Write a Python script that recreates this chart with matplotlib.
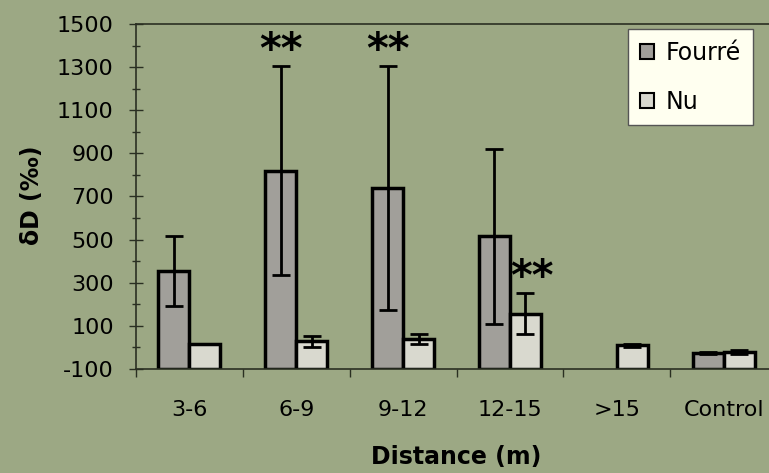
import matplotlib
matplotlib.use("Agg")
import matplotlib.pyplot as plt
import numpy as np
from matplotlib.ticker import MultipleLocator

categories = ["3-6", "6-9", "9-12", "12-15", ">15", "Control"]
fourre = [355, 820, 740, 515, np.nan, -25]
fourre_err = [163, 485, 565, 405, np.nan, 5]
nu = [15, 28, 40, 156, 10, -22]
nu_err = [0, 25, 24, 95, 8, 10]
stars = [(1, "fourre"), (2, "fourre"), (3, "nu")]
yticks = list(range(-100, 1501, 200))

bg = "#9ca884"
c_fourre = "#a19f9a"
c_nu = "#d9d9cf"
axis_c = "#2a2f22"

plt.rcParams['font.family'] = ['DejaVu Sans']
plt.rcParams['axes.unicode_minus'] = False

fig = plt.figure(figsize=(7.69, 4.73), dpi=100)
fig.patch.set_facecolor(bg)
ax = fig.add_axes([136/769, 1-369/473, (777-136)/769, (369-24)/473])
ax.set_facecolor(bg)

x = np.arange(len(categories))
w = 0.29
base = -100
f_vals = np.array(fourre, dtype=float)
n_vals = np.array(nu, dtype=float)
ax.bar(x - w/2, f_vals - base, w, bottom=base, color=c_fourre, edgecolor="black",
       linewidth=2.5, label="Fourré", zorder=2)
ax.bar(x + w/2, n_vals - base, w, bottom=base, color=c_nu, edgecolor="black",
       linewidth=2.5, label="Nu", zorder=2)
ax.errorbar(x - w/2, f_vals, yerr=fourre_err, fmt="none", ecolor="black",
            elinewidth=2, capsize=6.5, capthick=2, zorder=3)
ax.errorbar(x + w/2, n_vals, yerr=nu_err, fmt="none", ecolor="black",
            elinewidth=2, capsize=6.5, capthick=2, zorder=3)

for i, s in stars:
    if s == "fourre":
        xp = x[i] - w/2
        yp = f_vals[i] + fourre_err[i]
    else:
        xp = x[i] + w/2 + 0.06
        yp = n_vals[i] + nu_err[i]
    ax.annotate("**", (xp, yp), xytext=(0, 2.5), textcoords="offset points",
                ha="center", va="baseline", fontsize=30, fontweight="bold")

ax.set_xlim(-0.5, 5.5)
ax.set_ylim(-100, 1500)
ax.set_yticks(yticks)
ax.yaxis.set_minor_locator(MultipleLocator(100))
ax.tick_params(axis="y", which="major", direction="inout", length=10, width=1,
               color=axis_c, labelsize=16, pad=11)
ax.tick_params(axis="y", which="minor", direction="inout", length=6, width=1, color=axis_c)
ax.set_xticks(x)
ax.set_xticklabels(categories)
ax.tick_params(axis="x", which="major", length=0, labelsize=16, pad=22)
ax.set_xticks(np.arange(-0.5, 5.6, 1), minor=True)
ax.tick_params(axis="x", which="minor", direction="out", length=6, width=1, color=axis_c)

for sp in ["left", "bottom", "top"]:
    ax.spines[sp].set_color(axis_c)
    ax.spines[sp].set_linewidth(1.2)
ax.spines["right"].set_visible(False)

ax.set_xlabel("Distance (m)", fontsize=17, fontweight="bold", labelpad=18)
ax.set_ylabel("δD (‰)", fontsize=17, fontweight="bold")
ax.yaxis.set_label_coords((44-136)/641, 0.504)

leg = ax.legend(loc="upper left", bbox_to_anchor=(628/769, 1-29/473),
                bbox_transform=fig.transFigure, fontsize=17, frameon=True,
                fancybox=False, handlelength=0.6, handleheight=0.6,
                handletextpad=0.5, labelspacing=1.05, borderpad=0.5, borderaxespad=0)
leg.get_frame().set_facecolor("#fffff0")
leg.get_frame().set_edgecolor("#555555")
leg.get_frame().set_alpha(1)
for h in leg.legend_handles:
    h.set_linewidth(1.5)

fig.savefig("out.png", dpi=100, facecolor=bg)
